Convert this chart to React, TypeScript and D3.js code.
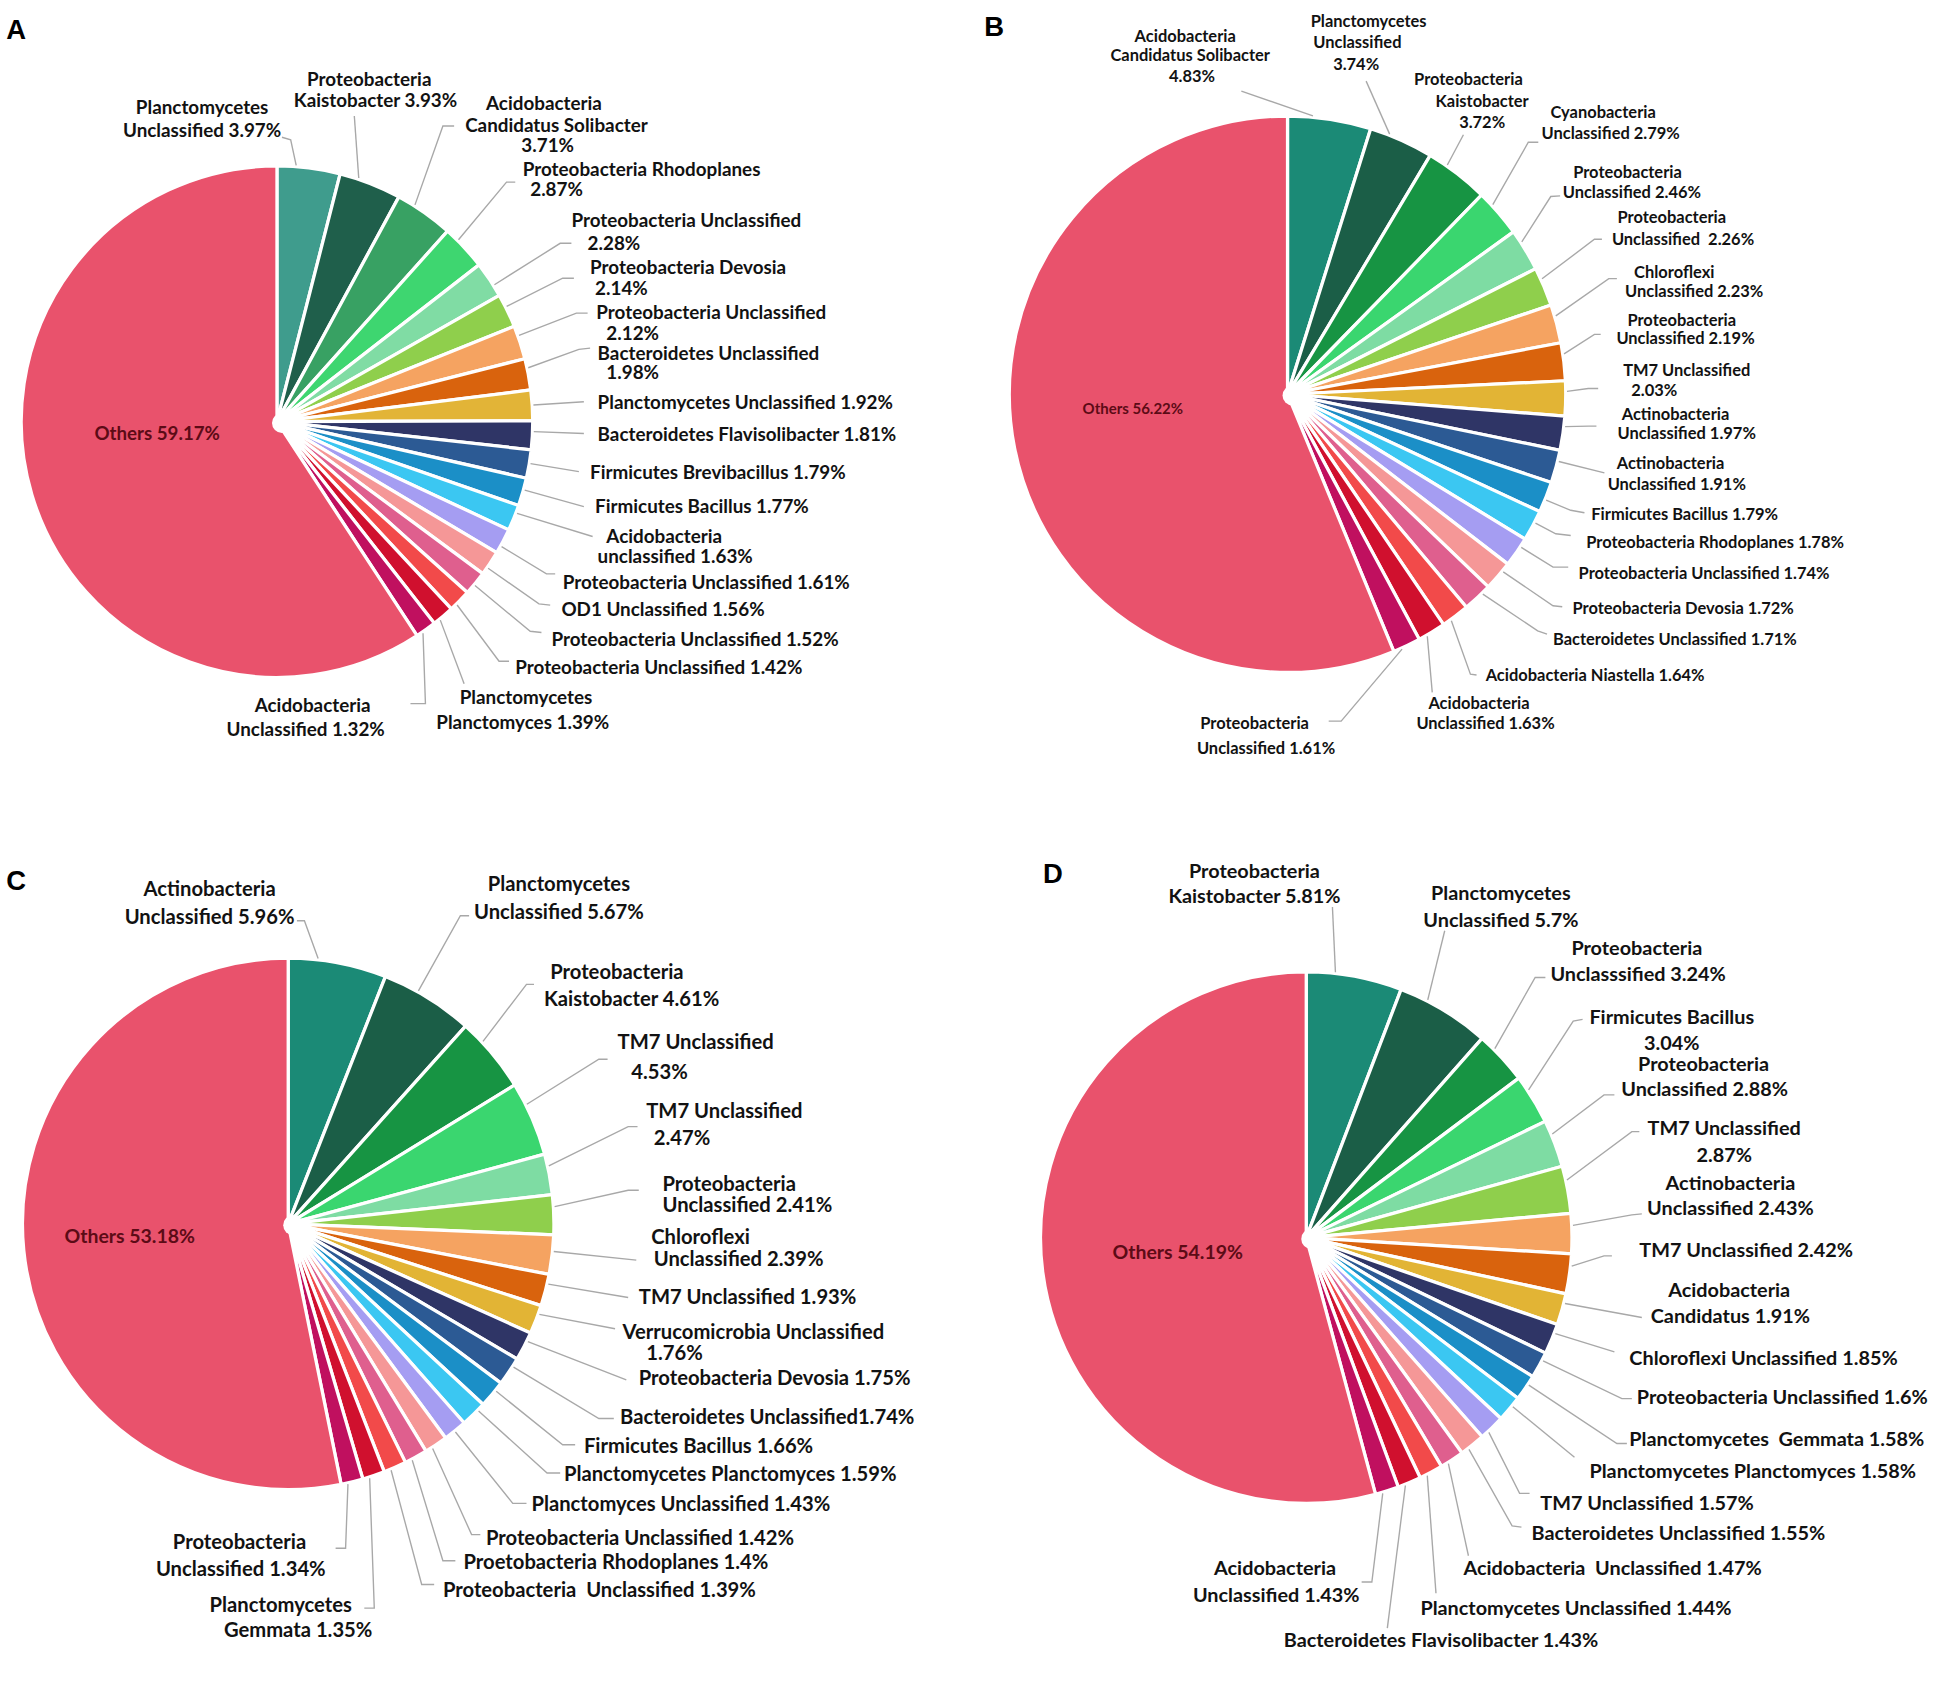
import React from 'react';
import * as d3 from 'd3';

// ---------- DATA ----------
const A_VALUES = [3.97, 3.93, 3.71, 2.87, 2.28, 2.14, 2.12, 1.98, 1.92, 1.81, 1.79, 1.77, 1.63, 1.61, 1.56, 1.52, 1.42, 1.39, 1.32, 59.17];
const A_LABELS: string[][] = [
  ['Planctomycetes', 'Unclassified 3.97%'],
  ['Proteobacteria', 'Kaistobacter 3.93%'],
  ['Acidobacteria', 'Candidatus Solibacter', '3.71%'],
  ['Proteobacteria Rhodoplanes', '2.87%'],
  ['Proteobacteria Unclassified', '2.28%'],
  ['Proteobacteria Devosia', '2.14%'],
  ['Proteobacteria Unclassified', '2.12%'],
  ['Bacteroidetes Unclassified', '1.98%'],
  ['Planctomycetes Unclassified 1.92%'],
  ['Bacteroidetes Flavisolibacter 1.81%'],
  ['Firmicutes Brevibacillus 1.79%'],
  ['Firmicutes Bacillus 1.77%'],
  ['Acidobacteria', 'unclassified 1.63%'],
  ['Proteobacteria Unclassified 1.61%'],
  ['OD1 Unclassified 1.56%'],
  ['Proteobacteria Unclassified 1.52%'],
  ['Proteobacteria Unclassified 1.42%'],
  ['Planctomycetes', 'Planctomyces 1.39%'],
  ['Acidobacteria', 'Unclassified 1.32%'],
  ['Others 59.17%'],
];

const B_VALUES = [4.83, 3.74, 3.72, 2.79, 2.46, 2.26, 2.23, 2.19, 2.03, 1.97, 1.91, 1.79, 1.78, 1.74, 1.72, 1.71, 1.64, 1.63, 1.61, 56.22];
const B_LABELS: string[][] = [
  ['Acidobacteria', 'Candidatus Solibacter', '4.83%'],
  ['Planctomycetes', 'Unclassified', '3.74%'],
  ['Proteobacteria', 'Kaistobacter', '3.72%'],
  ['Cyanobacteria', 'Unclassified 2.79%'],
  ['Proteobacteria', 'Unclassified 2.46%'],
  ['Proteobacteria', 'Unclassified  2.26%'],
  ['Chloroflexi', 'Unclassified 2.23%'],
  ['Proteobacteria', 'Unclassified 2.19%'],
  ['TM7 Unclassified', '2.03%'],
  ['Actinobacteria', 'Unclassified 1.97%'],
  ['Actinobacteria', 'Unclassified 1.91%'],
  ['Firmicutes Bacillus 1.79%'],
  ['Proteobacteria Rhodoplanes 1.78%'],
  ['Proteobacteria Unclassified 1.74%'],
  ['Proteobacteria Devosia 1.72%'],
  ['Bacteroidetes Unclassified 1.71%'],
  ['Acidobacteria Niastella 1.64%'],
  ['Acidobacteria', 'Unclassified 1.63%'],
  ['Proteobacteria', 'Unclassified 1.61%'],
  ['Others 56.22%'],
];

const C_VALUES = [5.96, 5.67, 4.61, 4.53, 2.47, 2.41, 2.39, 1.93, 1.76, 1.75, 1.74, 1.66, 1.59, 1.43, 1.42, 1.4, 1.39, 1.35, 1.34, 53.18];
const C_LABELS: string[][] = [
  ['Actinobacteria', 'Unclassified 5.96%'],
  ['Planctomycetes', 'Unclassified 5.67%'],
  ['Proteobacteria', 'Kaistobacter 4.61%'],
  ['TM7 Unclassified', '4.53%'],
  ['TM7 Unclassified', '2.47%'],
  ['Proteobacteria', 'Unclassified 2.41%'],
  ['Chloroflexi', 'Unclassified 2.39%'],
  ['TM7 Unclassified 1.93%'],
  ['Verrucomicrobia Unclassified', '1.76%'],
  ['Proteobacteria Devosia 1.75%'],
  ['Bacteroidetes Unclassified1.74%'],
  ['Firmicutes Bacillus 1.66%'],
  ['Planctomycetes Planctomyces 1.59%'],
  ['Planctomyces Unclassified 1.43%'],
  ['Proteobacteria Unclassified 1.42%'],
  ['Proetobacteria Rhodoplanes 1.4%'],
  ['Proteobacteria  Unclassified 1.39%'],
  ['Planctomycetes', 'Gemmata 1.35%'],
  ['Proteobacteria', 'Unclassified 1.34%'],
  ['Others 53.18%'],
];

const D_VALUES = [5.81, 5.7, 3.24, 3.04, 2.88, 2.87, 2.43, 2.42, 1.91, 1.85, 1.6, 1.58, 1.58, 1.57, 1.55, 1.47, 1.44, 1.43, 1.43, 54.19];
const D_LABELS: string[][] = [
  ['Proteobacteria', 'Kaistobacter 5.81%'],
  ['Planctomycetes', 'Unclassified 5.7%'],
  ['Proteobacteria', 'Unclasssified 3.24%'],
  ['Firmicutes Bacillus', '3.04%'],
  ['Proteobacteria', 'Unclassified 2.88%'],
  ['TM7 Unclassified', '2.87%'],
  ['Actinobacteria', 'Unclassified 2.43%'],
  ['TM7 Unclassified 2.42%'],
  ['Acidobacteria', 'Candidatus 1.91%'],
  ['Chloroflexi Unclassified 1.85%'],
  ['Proteobacteria Unclassified 1.6%'],
  ['Planctomycetes  Gemmata 1.58%'],
  ['Planctomycetes Planctomyces 1.58%'],
  ['TM7 Unclassified 1.57%'],
  ['Bacteroidetes Unclassified 1.55%'],
  ['Acidobacteria  Unclassified 1.47%'],
  ['Planctomycetes Unclassified 1.44%'],
  ['Bacteroidetes Flavisolibacter 1.43%'],
  ['Acidobacteria', 'Unclassified 1.43%'],
  ['Others 54.19%'],
];

const PANEL_LETTERS = ['A', 'B', 'C', 'D'];

// ---------- STYLES / LAYOUT ----------
const COLORS_A = ['#3f9c8d', '#1f5f4b', '#38a163', '#3ed670', '#80dca4', '#8fcf4c', '#f5a361', '#d9630d', '#e2b437', '#2f3566', '#2c5a94', '#1b8fc7', '#3bc7f2', '#a59df2', '#f59797', '#df5f8e', '#f24a4a', '#d0102e', '#c0105f', '#e9526c'];
const COLORS_BCD = ['#1b8a76', '#1b5e47', '#179443', '#3ad66f', '#7edca3', '#8fcf4c', '#f5a361', '#d9630d', '#e2b435', '#2f3566', '#2c5a94', '#1b8fc7', '#3bc7f2', '#a59df2', '#f59797', '#df5f8e', '#f24a4a', '#d0102e', '#c0105f', '#e9526c'];

type Lay = { a: 'start' | 'middle'; xs: number[]; ys: number[]; k?: [number, number]; e?: [number, number] };
const L = (a: 'start' | 'middle', xs: number[], ys: number[], k?: [number, number], e?: [number, number]): Lay => ({ a, xs, ys, k, e });

const A_LAYOUT: Lay[] = [
  L('middle', [162, 162], [85, 104], [233, 112], [226, 110]),
  L('middle', [296, 301], [63, 80], [284, 93], [284, 93]),
  L('middle', [436, 446, 439], [82, 100, 116], [355, 101], [364, 101]),
  L('start', [419, 425], [135, 151], [406, 146], [413, 146]),
  L('start', [458, 471], [176, 194.5], [449, 195], [458, 195]),
  L('start', [473, 477], [214, 230.5], [451, 223], [460, 223]),
  L('start', [478, 486], [250, 266.5], [462, 251], [471, 251]),
  L('start', [479, 486], [282.5, 298], [464, 280], [473, 279]),
  L('start', [479], [322], [468, 322], [468, 322]),
  L('start', [479], [347.5], [468, 347.5], [468, 347.5]),
  L('start', [473], [378], [464, 378], [464, 378]),
  L('start', [477], [405], [468, 406], [468, 406]),
  L('start', [486, 479], [429, 445], [475, 430], [475, 430]),
  L('start', [451], [466], [438, 460], [445, 460]),
  L('start', [450], [488], [432, 484], [441, 485]),
  L('start', [442], [512], [425, 506], [434, 507]),
  L('start', [413], [534.5], [400, 530], [408, 530]),
  L('middle', [421.6, 419], [558.5, 578.6], [372, 548], [372, 548]),
  L('middle', [250.6, 245], [565, 584], [341, 564], [329, 564]),
  L('middle', [126], [347]),
];

const B_LAYOUT: Lay[] = [
  L('middle', [950, 954, 955.5], [29, 44, 61], [995, 73], [995, 73]),
  L('middle', [1097, 1088, 1087], [17, 34, 51], [1095, 65], [1095, 65]),
  L('middle', [1177, 1188, 1188], [63.6, 80.8, 97.7], [1173, 108], [1173, 108]),
  L('middle', [1285, 1291], [90, 107], [1225, 114], [1233, 114]),
  L('middle', [1304.5, 1308], [138, 153.6], [1243, 157.5], [1250.5, 157]),
  L('middle', [1340, 1349], [174.3, 191.8], [1278, 191.8], [1284, 191.8]),
  L('middle', [1342, 1358], [218, 233.5], [1289.5, 223.3], [1296, 223.3]),
  L('middle', [1348, 1351], [256.3, 271], [1278, 268], [1283, 268]),
  L('middle', [1352, 1326], [296.7, 312.8], [1273, 311.4], [1281, 311.4]),
  L('middle', [1343, 1352], [332, 347.4], [1273.4, 341.5], [1279.6, 341.5]),
  L('middle', [1339, 1344], [371.5, 388.2], [1286, 379], [1286, 379]),
  L('start', [1275.5], [411.8], [1259, 409], [1270, 411]),
  L('start', [1271.4], [434.5], [1247, 427.8], [1259, 429.2]),
  L('start', [1265.3], [459.5], [1244.8, 454.6], [1257, 454.6]),
  L('start', [1260.4], [487.4], [1244.8, 485.5], [1252.2, 486.3]),
  L('start', [1244.8], [511.8], [1232.5, 505.6], [1240, 508.3]),
  L('start', [1190.8], [541], [1178.6, 540.4], [1183.5, 541]),
  L('middle', [1185.5, 1190.7], [563.2, 579.3], [1148, 555], [1148, 555]),
  L('middle', [1005.6, 1014.8], [579.3, 599.4], [1075, 578], [1065, 578]),
  L('middle', [908], [327]),
];

const C_LAYOUT: Lay[] = [
  L('middle', [168, 168], [712, 734], [244, 738], [238, 738]),
  L('middle', [448, 448], [708, 730], [369, 734], [376, 734]),
  L('start', [441, 436], [778, 800], [422, 789], [428, 789]),
  L('start', [495, 506], [834.5, 858.7], [480, 849], [487, 849]),
  L('start', [518, 524], [889.6, 911], [503.5, 903], [511, 903]),
  L('start', [531, 531], [948.5, 965], [503.5, 954], [512, 954]),
  L('start', [522, 524], [990.5, 1008], [510, 1010], [510, 1010]),
  L('start', [512], [1039], [503.5, 1040], [503.5, 1040]),
  L('start', [499, 518], [1067, 1083.5], [493, 1065], [493, 1065]),
  L('start', [512], [1104], [502, 1106], [502, 1106]),
  L('start', [497], [1135], [480, 1137], [492, 1137]),
  L('start', [468], [1158.5], [451, 1158], [461, 1158]),
  L('start', [452], [1181], [438.5, 1180.7], [449, 1180.7]),
  L('start', [426], [1205], [411, 1205], [422, 1205]),
  L('start', [389.5], [1232], [378, 1230], [385, 1230]),
  L('start', [371.5], [1251.3], [355, 1251], [365, 1251]),
  L('start', [355], [1274], [338, 1270], [348, 1270]),
  L('middle', [225, 239], [1286, 1306], [300, 1289], [292, 1289]),
  L('middle', [192, 193], [1235.3, 1256.7], [277, 1241], [269, 1241]),
  L('middle', [104], [990]),
];

const D_LAYOUT: Lay[] = [
  L('middle', [1005.5, 1005.5], [697.5, 717.7], [1068, 727], [1068, 727]),
  L('middle', [1203, 1203], [715, 736.5], [1158, 746], [1158, 746]),
  L('middle', [1312, 1313], [759, 779.5], [1230.5, 783.5], [1238.7, 783.5]),
  L('middle', [1340, 1340], [814.4, 835.4], [1261, 818.5], [1268.5, 817]),
  L('middle', [1365.5, 1366.3], [852, 872.2], [1285.7, 877.6], [1294, 877.6]),
  L('middle', [1382, 1382], [903, 924.6], [1308, 907], [1314, 907]),
  L('middle', [1387, 1387], [947.5, 967.7], [1308, 973.8], [1316, 973]),
  L('start', [1314], [1001.3], [1285.7, 1006.6], [1292, 1006.6]),
  L('middle', [1386, 1387], [1033.5, 1053.7], [1316, 1056], [1316, 1056]),
  L('start', [1306], [1087.5], [1294, 1083.5], [1294, 1083.5]),
  L('start', [1312], [1119], [1300, 1121], [1308, 1121]),
  L('start', [1306], [1153], [1296, 1157], [1304, 1157]),
  L('start', [1274], [1178.5], [1262, 1168], [1262, 1168]),
  L('start', [1234.6], [1204], [1218, 1197], [1226, 1197]),
  L('start', [1227.6], [1228], [1212, 1223], [1219.5, 1224]),
  L('start', [1173], [1256], [1177, 1247], [1177, 1247]),
  L('start', [1138.5], [1288], [1151, 1277], [1151, 1277]),
  L('start', [1029], [1313.7], [1112, 1305], [1112, 1305]),
  L('middle', [1022, 1023], [1256, 1277.6], [1099.6, 1268], [1091.4, 1268]),
  L('middle', [944], [1003]),
];

type Panel = {
  letter: string; lx: number; ly: number;
  cx: number; cy: number; r: number;
  values: number[]; labels: string[][]; layout: Lay[]; colors: string[];
  fs: number; ofs: number;
};

const PANELS: Panel[] = [
  { letter: PANEL_LETTERS[0], lx: 5, ly: 31, cx: 222, cy: 338, r: 205, values: A_VALUES, labels: A_LABELS, layout: A_LAYOUT, colors: COLORS_A, fs: 15.1, ofs: 15 },
  { letter: PANEL_LETTERS[1], lx: 789, ly: 29, cx: 1032, cy: 316, r: 223, values: B_VALUES, labels: B_LABELS, layout: B_LAYOUT, colors: COLORS_BCD, fs: 13.2, ofs: 12 },
  { letter: PANEL_LETTERS[2], lx: 5, ly: 713, cx: 231, cy: 981, r: 213, values: C_VALUES, labels: C_LABELS, layout: C_LAYOUT, colors: COLORS_BCD, fs: 16.2, ofs: 15.6 },
  { letter: PANEL_LETTERS[3], lx: 836, ly: 708, cx: 1047, cy: 992, r: 213, values: D_VALUES, labels: D_LABELS, layout: D_LAYOUT, colors: COLORS_BCD, fs: 15.9, ofs: 15.6 },
];

const FONT = 'Lato, "Open Sans", "DejaVu Sans", sans-serif';

function wrapAngle(a: number) {
  while (a > Math.PI) a -= 2 * Math.PI;
  while (a < -Math.PI) a += 2 * Math.PI;
  return a;
}

function PiePanel({ p }: { p: Panel }) {
  const pie = d3.pie<number>().sort(null).value((d) => d);
  const arcs = pie(p.values);
  const arcGen = d3.arc<d3.PieArcDatum<number>>().innerRadius(0).outerRadius(p.r);
  const n = p.values.length;
  return (
    <g>
      <text x={p.lx} y={p.ly} fontFamily='"Liberation Sans", Arial, sans-serif' fontWeight={700} fontSize={22} fill="#000">{p.letter}</text>
      <g transform={`translate(${p.cx},${p.cy})`}>
        {arcs.map((a, i) => (
          <path key={i} d={arcGen(a) || ''} fill={p.colors[i]} stroke="#ffffff" strokeWidth={2.6} strokeLinejoin="round" />
        ))}
        <circle cx={4} cy={1} r={8} fill="#ffffff" />
      </g>
      {arcs.map((a, i) => {
        const lay = p.layout[i];
        if (i === n - 1 || !lay.k || !lay.e) return null;
        const [kx, ky] = lay.k;
        const [ex, ey] = lay.e;
        const mid = (a.startAngle + a.endAngle) / 2;
        const half = (a.endAngle - a.startAngle) / 2;
        const tk = Math.atan2(kx - p.cx, -(ky - p.cy));
        const diff = wrapAngle(tk - mid);
        const lim = half * 0.4;
        const ts = mid + Math.max(-lim, Math.min(lim, diff));
        const sx = p.cx + (p.r + 1) * Math.sin(ts);
        const sy = p.cy - (p.r + 1) * Math.cos(ts);
        return (
          <path key={'l' + i} d={`M${sx},${sy}L${kx},${ky}L${ex},${ey}`} fill="none" stroke="#a8a8a8" strokeWidth={1.1} />
        );
      })}
      {p.labels.map((lines, i) => {
        const lay = p.layout[i];
        const isOthers = i === n - 1;
        return (
          <text key={'t' + i} fontFamily={FONT} fontWeight={700} fontSize={isOthers ? p.ofs : p.fs} fill={isOthers ? '#5c0b16' : '#121212'} textAnchor={lay.a}>
            {lines.map((ln, j) => (
              <tspan key={j} x={lay.xs[j]} y={lay.ys[j]} dominantBaseline="central" style={{ whiteSpace: 'pre' }}>{ln}</tspan>
            ))}
          </text>
        );
      })}
    </g>
  );
}

export default function App() {
  return (
    <svg width={1950} height={1703} viewBox="0 0 1563 1365" style={{ position: 'absolute', left: 0, top: 0, background: '#fff' }}>
      <rect x={0} y={0} width={1563} height={1365} fill="#ffffff" />
      {PANELS.map((p) => (
        <PiePanel key={p.letter} p={p} />
      ))}
    </svg>
  );
}
